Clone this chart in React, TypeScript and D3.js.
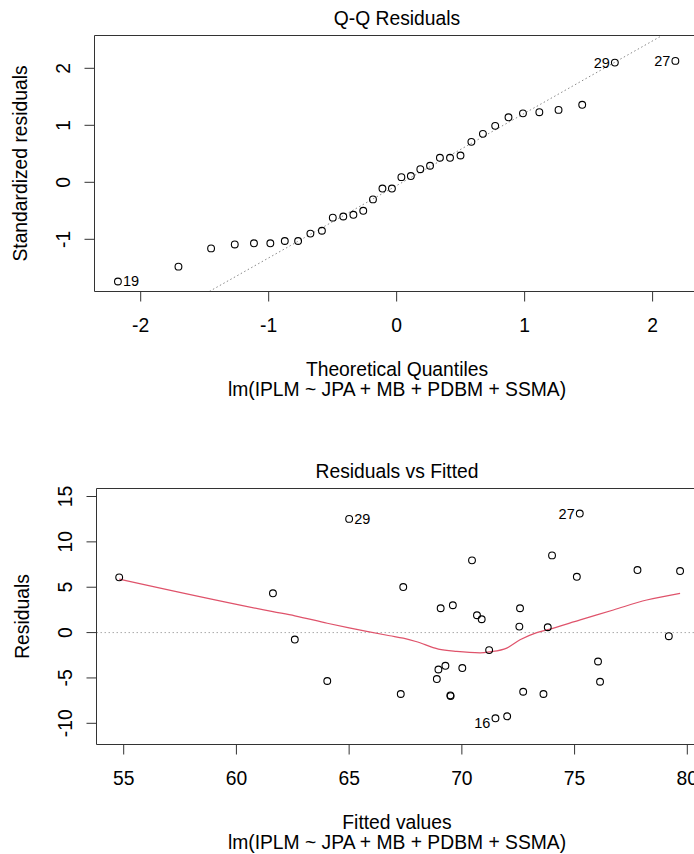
import React from "react";
import * as d3 from "d3";

// ---- Q-Q panel data ----
const qqTheoretical = [
  -2.178, -1.705, -1.450, -1.265, -1.115, -0.987, -0.874, -0.770, -0.674, -0.584,
  -0.499, -0.417, -0.338, -0.261, -0.185, -0.111, -0.037, 0.037, 0.111, 0.185,
  0.261, 0.338, 0.417, 0.499, 0.584, 0.674, 0.770, 0.874, 0.987, 1.115,
  1.265, 1.450, 1.705, 2.178,
];
const qqStdResid = [
  -1.74, -1.48, -1.16, -1.09, -1.07, -1.07, -1.03, -1.03, -0.90, -0.85,
  -0.62, -0.60, -0.57, -0.50, -0.30, -0.11, -0.11, 0.09, 0.11, 0.23,
  0.29, 0.43, 0.43, 0.47, 0.71, 0.85, 0.99, 1.14, 1.21, 1.23,
  1.27, 1.36, 2.10, 2.13,
];
const qqLabels = ["19", "", "", "", "", "", "", "", "", "", "", "", "", "", "", "", "",
  "", "", "", "", "", "", "", "", "", "", "", "", "", "", "", "29", "27"];
const qqLineIntercept = -0.057;
const qqLineSlope = 1.269;
const qqXTicks = [-2, -1, 0, 1, 2];
const qqYTicks = [-1, 0, 1, 2];

// ---- Residuals vs Fitted data ----
const fittedValues = [
  54.80, 61.62, 62.59, 64.03, 65.00, 67.40, 67.29, 69.06, 69.60, 70.45,
  70.67, 70.88, 71.21, 68.96, 69.27, 68.89, 70.02, 69.49, 69.50, 71.49,
  72.01, 72.55, 72.58, 72.72, 73.62, 73.81, 74.00, 75.10, 75.23, 76.04,
  76.13, 77.79, 79.18, 79.68,
];
const residuals = [
  6.09, 4.33, -0.77, -5.34, 12.53, 5.02, -6.77, 2.68, 3.01, 7.96,
  1.91, 1.47, -1.93, -4.07, -3.66, -5.12, -3.91, -6.92, -7.00, -9.45,
  -9.23, 0.66, 2.68, -6.52, -6.77, 0.59, 8.51, 6.15, 13.12, -3.19,
  -5.42, 6.89, -0.40, 6.78,
];
const residLabels = ["", "", "", "", "29", "", "", "", "", "", "", "", "", "", "", "", "",
  "", "", "16", "", "", "", "", "", "", "", "", "27", "", "", "", "", ""];
const smoothX = [54.80, 61.62, 62.59, 64.03, 65.00, 66.80, 67.40, 67.96, 68.96, 69.77,
  70.81, 71.25, 71.99, 72.58, 73.32, 73.77, 75.25, 76.72, 78.20, 79.68];
const smoothY = [5.90, 2.31, 1.85, 1.03, 0.52, -0.35, -0.62, -0.98, -1.82, -2.08,
  -2.23, -2.12, -1.71, -0.80, 0.0, 0.30, 1.40, 2.49, 3.59, 4.33];
const rvfXTicks = [55, 60, 65, 70, 75, 80];
const rvfYTicks = [-10, -5, 0, 5, 10, 15];

const FONT = "'Liberation Sans', Arial, sans-serif";
const FS = 19.3;
const AX = "#333";

export default function App() {
  // Top panel geometry
  const t = { left: 94.5, right: 700, top: 35.5, bottom: 291.5 };
  const qx = d3.scaleLinear().domain([-2, 2]).range([140.7, 652.6]);
  const qy = d3.scaleLinear().domain([2, -1]).range([68.3, 239.3]);

  // Bottom panel geometry
  const b = { left: 96.5, right: 702, top: 488.5, bottom: 744.5 };
  const fx = d3.scaleLinear().domain([55, 80]).range([123.7, 687.3]);
  const fy = d3.scaleLinear().domain([15, -10]).range([496.5, 723.3]);

  const qLineX0 = qx.invert(t.left);
  const qLineX1 = qx.invert(t.right);

  const smoothPts: [number, number][] = smoothX.map((v, i) => [v, smoothY[i]]);
  const smoothPath = d3.line<[number, number]>().x(d => fx(d[0])).y(d => fy(d[1])).curve(d3.curveMonotoneX)(smoothPts) || "";

  const labelPos: Record<string, { dx: number; anchor: string; dy: number }> = {
    "19": { dx: 5, anchor: "start", dy: 0 },
    "29q": { dx: -5, anchor: "end", dy: 0 },
    "27q": { dx: -5, anchor: "end", dy: 0 },
    "29": { dx: 5, anchor: "start", dy: 0 },
    "27": { dx: -5, anchor: "end", dy: 0 },
    "16": { dx: -5, anchor: "end", dy: 5 },
  };

  return (
    <svg width={694} height={854} style={{ position: "absolute", left: 0, top: 0, background: "#fff" }}
      fontFamily={FONT}>
      <defs>
        <clipPath id="clipTop"><rect x={t.left} y={t.top} width={t.right - t.left} height={t.bottom - t.top} /></clipPath>
        <clipPath id="clipBot"><rect x={b.left} y={b.top} width={b.right - b.left} height={b.bottom - b.top} /></clipPath>
      </defs>
      <rect x={0} y={0} width={694} height={854} fill="#fff" />

      {/* ===== TOP: Q-Q Residuals ===== */}
      <text x={397} y={18} fontSize={FS} textAnchor="middle" dominantBaseline="central" fill="#000">Q-Q Residuals</text>
      <g clipPath="url(#clipTop)">
        <line x1={qx(qLineX0)} y1={qy(qqLineIntercept + qqLineSlope * qLineX0)}
          x2={qx(qLineX1)} y2={qy(qqLineIntercept + qqLineSlope * qLineX1)}
          stroke="#888" strokeWidth={1} strokeDasharray="1.5,2.5" />
      </g>
      {qqTheoretical.map((xv, i) => (
        <circle key={"q" + i} cx={qx(xv)} cy={qy(qqStdResid[i])} r={3.4} fill="none" stroke="#000" strokeWidth={1.1} />
      ))}
      {qqTheoretical.map((xv, i) => {
        const lab = qqLabels[i];
        if (!lab) return null;
        const key = lab === "19" ? "19" : lab + "q";
        const p = labelPos[key];
        return (
          <text key={"ql" + i} x={qx(xv) + p.dx} y={qy(qqStdResid[i]) + p.dy} fontSize={14.5}
            textAnchor={p.anchor} dominantBaseline="central" fill="#000">{lab}</text>
        );
      })}
      <path d={`M${t.right},${t.top}H${t.left}V${t.bottom}H${t.right}`} fill="none" stroke={AX} strokeWidth={1} />
      {qqXTicks.map(v => (
        <g key={"qxt" + v}>
          <line x1={qx(v)} x2={qx(v)} y1={t.bottom} y2={t.bottom + 10} stroke={AX} />
          <text x={qx(v)} y={325} fontSize={FS} textAnchor="middle" dominantBaseline="central" fill="#000">{v}</text>
        </g>
      ))}
      {qqYTicks.map(v => (
        <g key={"qyt" + v}>
          <line x1={t.left - 10} x2={t.left} y1={qy(v)} y2={qy(v)} stroke={AX} />
          <text transform={`translate(63.5,${qy(v)}) rotate(-90)`} fontSize={FS} textAnchor="middle"
            dominantBaseline="central" fill="#000">{v}</text>
        </g>
      ))}
      <text transform={`translate(20,${(t.top + t.bottom) / 2}) rotate(-90)`} fontSize={FS} textAnchor="middle"
        dominantBaseline="central" fill="#000">Standardized residuals</text>
      <text x={397} y={369} fontSize={FS} textAnchor="middle" dominantBaseline="central" fill="#000">Theoretical Quantiles</text>
      <text x={397} y={389} fontSize={FS} textAnchor="middle" dominantBaseline="central" fill="#000">lm(IPLM ~ JPA + MB + PDBM + SSMA)</text>

      {/* ===== BOTTOM: Residuals vs Fitted ===== */}
      <text x={397} y={471} fontSize={FS} textAnchor="middle" dominantBaseline="central" fill="#000">Residuals vs Fitted</text>
      <g clipPath="url(#clipBot)">
        <line x1={b.left} x2={b.right} y1={fy(0)} y2={fy(0)} stroke="#aaa" strokeWidth={1} strokeDasharray="1.5,2.5" />
        <path d={smoothPath} fill="none" stroke="#DF536B" strokeWidth={1.2} />
      </g>
      {fittedValues.map((xv, i) => (
        <circle key={"r" + i} cx={fx(xv)} cy={fy(residuals[i])} r={3.4} fill="none" stroke="#000" strokeWidth={1.1} />
      ))}
      {fittedValues.map((xv, i) => {
        const lab = residLabels[i];
        if (!lab) return null;
        const p = labelPos[lab];
        return (
          <text key={"rl" + i} x={fx(xv) + p.dx} y={fy(residuals[i]) + p.dy} fontSize={14.5}
            textAnchor={p.anchor} dominantBaseline="central" fill="#000">{lab}</text>
        );
      })}
      <path d={`M${b.right},${b.top}H${b.left}V${b.bottom}H${b.right}`} fill="none" stroke={AX} strokeWidth={1} />
      {rvfXTicks.map(v => (
        <g key={"rxt" + v}>
          <line x1={fx(v)} x2={fx(v)} y1={b.bottom} y2={b.bottom + 10} stroke={AX} />
          <text x={fx(v)} y={778} fontSize={FS} textAnchor="middle" dominantBaseline="central" fill="#000">{v}</text>
        </g>
      ))}
      {rvfYTicks.map(v => (
        <g key={"ryt" + v}>
          <line x1={b.left - 10} x2={b.left} y1={fy(v)} y2={fy(v)} stroke={AX} />
          <text transform={`translate(65.5,${fy(v)}) rotate(-90)`} fontSize={FS} textAnchor="middle"
            dominantBaseline="central" fill="#000">{v}</text>
        </g>
      ))}
      <text transform={`translate(22,${(b.top + b.bottom) / 2}) rotate(-90)`} fontSize={FS} textAnchor="middle"
        dominantBaseline="central" fill="#000">Residuals</text>
      <text x={397} y={822} fontSize={FS} textAnchor="middle" dominantBaseline="central" fill="#000">Fitted values</text>
      <text x={397} y={842} fontSize={FS} textAnchor="middle" dominantBaseline="central" fill="#000">lm(IPLM ~ JPA + MB + PDBM + SSMA)</text>
    </svg>
  );
}
